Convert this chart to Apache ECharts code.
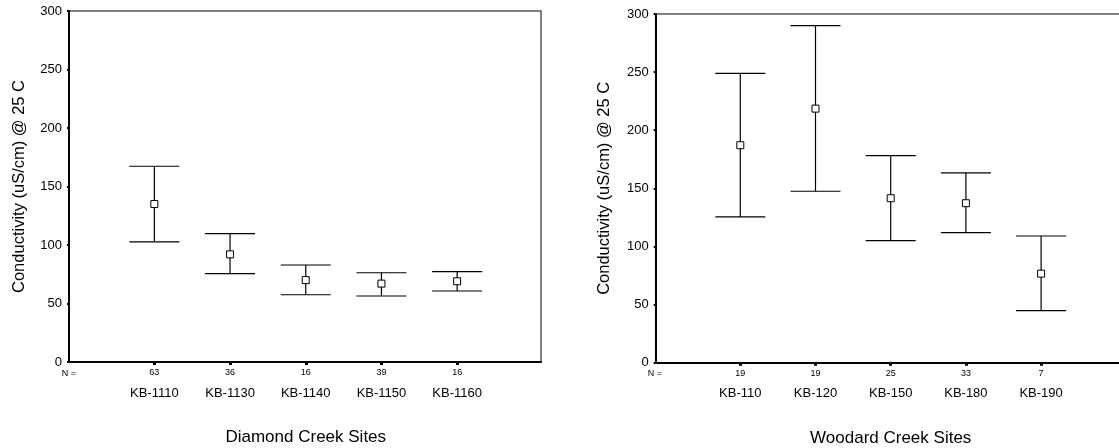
<!DOCTYPE html>
<html>
<head>
<meta charset="utf-8">
<script src="https://cdn.jsdelivr.net/npm/echarts@6/dist/echarts.min.js"></script>
<style>
  html, body { margin: 0; padding: 0; background: #fff; }
  #chart { width: 1119px; height: 448px; }
</style>
</head>
<body>
<div id="chart"></div>
<script>
// Diamond Creek sites
const catsLeft = ['KB-1110', 'KB-1130', 'KB-1140', 'KB-1150', 'KB-1160']
const nLeft = [63, 36, 16, 39, 16]
const meanLeft = [135, 92, 70, 67, 69]
const lowLeft = [102.6, 75.5, 57.5, 56.4, 60.7]
const highLeft = [167.3, 109.7, 82.9, 76.3, 77.2]

// Woodard Creek sites
const catsRight = ['KB-110', 'KB-120', 'KB-150', 'KB-180', 'KB-190']
const nRight = [19, 19, 25, 33, 7]
const meanRight = [187.1, 218.6, 141.5, 137.2, 76.6]
const lowRight = [125.4, 147.5, 105, 111.9, 44.8]
const highRight = [249, 290, 178.1, 163.3, 109]

const yTicks = [0, 300, 50] // min, max, step
const font = "'Liberation Sans', Arial, sans-serif"

const myChart = echarts.init(document.getElementById('chart'))

function errorBar (params, api) {
  const lo = api.coord([api.value(0), api.value(1)])
  const hi = api.coord([api.value(0), api.value(2)])
  const w = 25
  const style = { stroke: '#000', lineWidth: 1.2 }
  return {
    type: 'group',
    children: [
      { type: 'line', shape: { x1: hi[0], y1: hi[1], x2: lo[0], y2: lo[1] }, style: style },
      { type: 'line', shape: { x1: hi[0] - w, y1: hi[1], x2: hi[0] + w, y2: hi[1] }, style: style },
      { type: 'line', shape: { x1: lo[0] - w, y1: lo[1], x2: lo[0] + w, y2: lo[1] }, style: style }
    ]
  }
}

function frameX (grid) {
  return {
    gridIndex: grid,
    type: 'value',
    min: 0,
    max: 1,
    axisLine: { lineStyle: { color: '#000', width: 2 } },
    axisTick: { show: false },
    axisLabel: { show: false },
    splitLine: { show: false }
  }
}

function frameY (grid, gap) {
  return {
    gridIndex: grid,
    type: 'value',
    min: yTicks[0],
    max: yTicks[1],
    interval: yTicks[2],
    name: 'Conductivity (uS/cm) @ 25 C',
    nameLocation: 'middle',
    nameGap: gap,
    nameTextStyle: { fontSize: 16.5, color: '#000', fontFamily: font },
    axisLine: { show: true, lineStyle: { color: '#000', width: 2 } },
    axisTick: { show: true, length: 2, lineStyle: { color: '#000', width: 2 } },
    axisLabel: { fontSize: 13, color: '#000', fontFamily: font, margin: 7 },
    splitLine: { show: false }
  }
}

function dataX (grid, cats, ns, title) {
  return {
    gridIndex: grid,
    type: 'category',
    data: cats,
    boundaryGap: true,
    name: title,
    nameLocation: 'middle',
    nameGap: 67,
    nameTextStyle: { fontSize: 17, color: '#000', fontFamily: font },
    axisLine: { show: false },
    axisTick: { show: true, alignWithLabel: true, length: 3, lineStyle: { color: '#000', width: 3 } },
    axisLabel: {
      margin: 6,
      interval: 0,
      formatter: function (v, i) { return '{n|' + ns[i] + '}\n{c|' + v + '}' },
      rich: {
        n: { fontSize: 9, lineHeight: 10, color: '#000', fontFamily: font },
        c: { fontSize: 13, lineHeight: 30, color: '#000', fontFamily: font }
      }
    },
    splitLine: { show: false }
  }
}

function dataY (grid) {
  return { gridIndex: grid, type: 'value', min: yTicks[0], max: yTicks[1], show: false }
}

function errData (low, high) {
  return low.map((v, i) => [i, v, high[i]])
}

const frameGrid = { show: true, borderColor: '#555', borderWidth: 1.5, backgroundColor: 'transparent', outerBoundsMode: 'none' }

myChart.setOption({
  animation: false,
  grid: [
    Object.assign({ left: 69, top: 11, width: 472, height: 351 }, frameGrid),
    { left: 116.5, top: 11, width: 378.5, height: 351, outerBoundsMode: 'none' },
    Object.assign({ left: 655.7, top: 14, width: 472, height: 348.7 }, frameGrid),
    { left: 702.7, top: 14, width: 376, height: 348.7, outerBoundsMode: 'none' }
  ],
  xAxis: [
    frameX(0),
    dataX(1, catsLeft, nLeft, 'Diamond Creek Sites'),
    frameX(2),
    dataX(3, catsRight, nRight, 'Woodard Creek Sites')
  ],
  yAxis: [
    frameY(0, 41),
    dataY(1),
    frameY(2, 43),
    dataY(3)
  ],
  graphic: [
    { type: 'text', x: 69, y: 374, style: { text: 'N =', fontSize: 9, fontFamily: font, fill: '#000', align: 'center', verticalAlign: 'middle' } },
    { type: 'text', x: 655, y: 374, style: { text: 'N =', fontSize: 9, fontFamily: font, fill: '#000', align: 'center', verticalAlign: 'middle' } }
  ],
  series: [
    {
      type: 'custom',
      xAxisIndex: 1,
      yAxisIndex: 1,
      renderItem: errorBar,
      encode: { x: 0, y: [1, 2] },
      data: errData(lowLeft, highLeft)
    },
    {
      type: 'scatter',
      xAxisIndex: 1,
      yAxisIndex: 1,
      symbol: 'rect',
      symbolSize: 7,
      itemStyle: { color: '#fff', borderColor: '#000', borderWidth: 1, opacity: 1 },
      data: meanLeft,
      z: 5
    },
    {
      type: 'custom',
      xAxisIndex: 3,
      yAxisIndex: 3,
      renderItem: errorBar,
      encode: { x: 0, y: [1, 2] },
      data: errData(lowRight, highRight)
    },
    {
      type: 'scatter',
      xAxisIndex: 3,
      yAxisIndex: 3,
      symbol: 'rect',
      symbolSize: 7,
      itemStyle: { color: '#fff', borderColor: '#000', borderWidth: 1, opacity: 1 },
      data: meanRight,
      z: 5
    }
  ]
})

window.addEventListener('resize', () => {
  myChart.resize()
})
</script>
</body>
</html>
